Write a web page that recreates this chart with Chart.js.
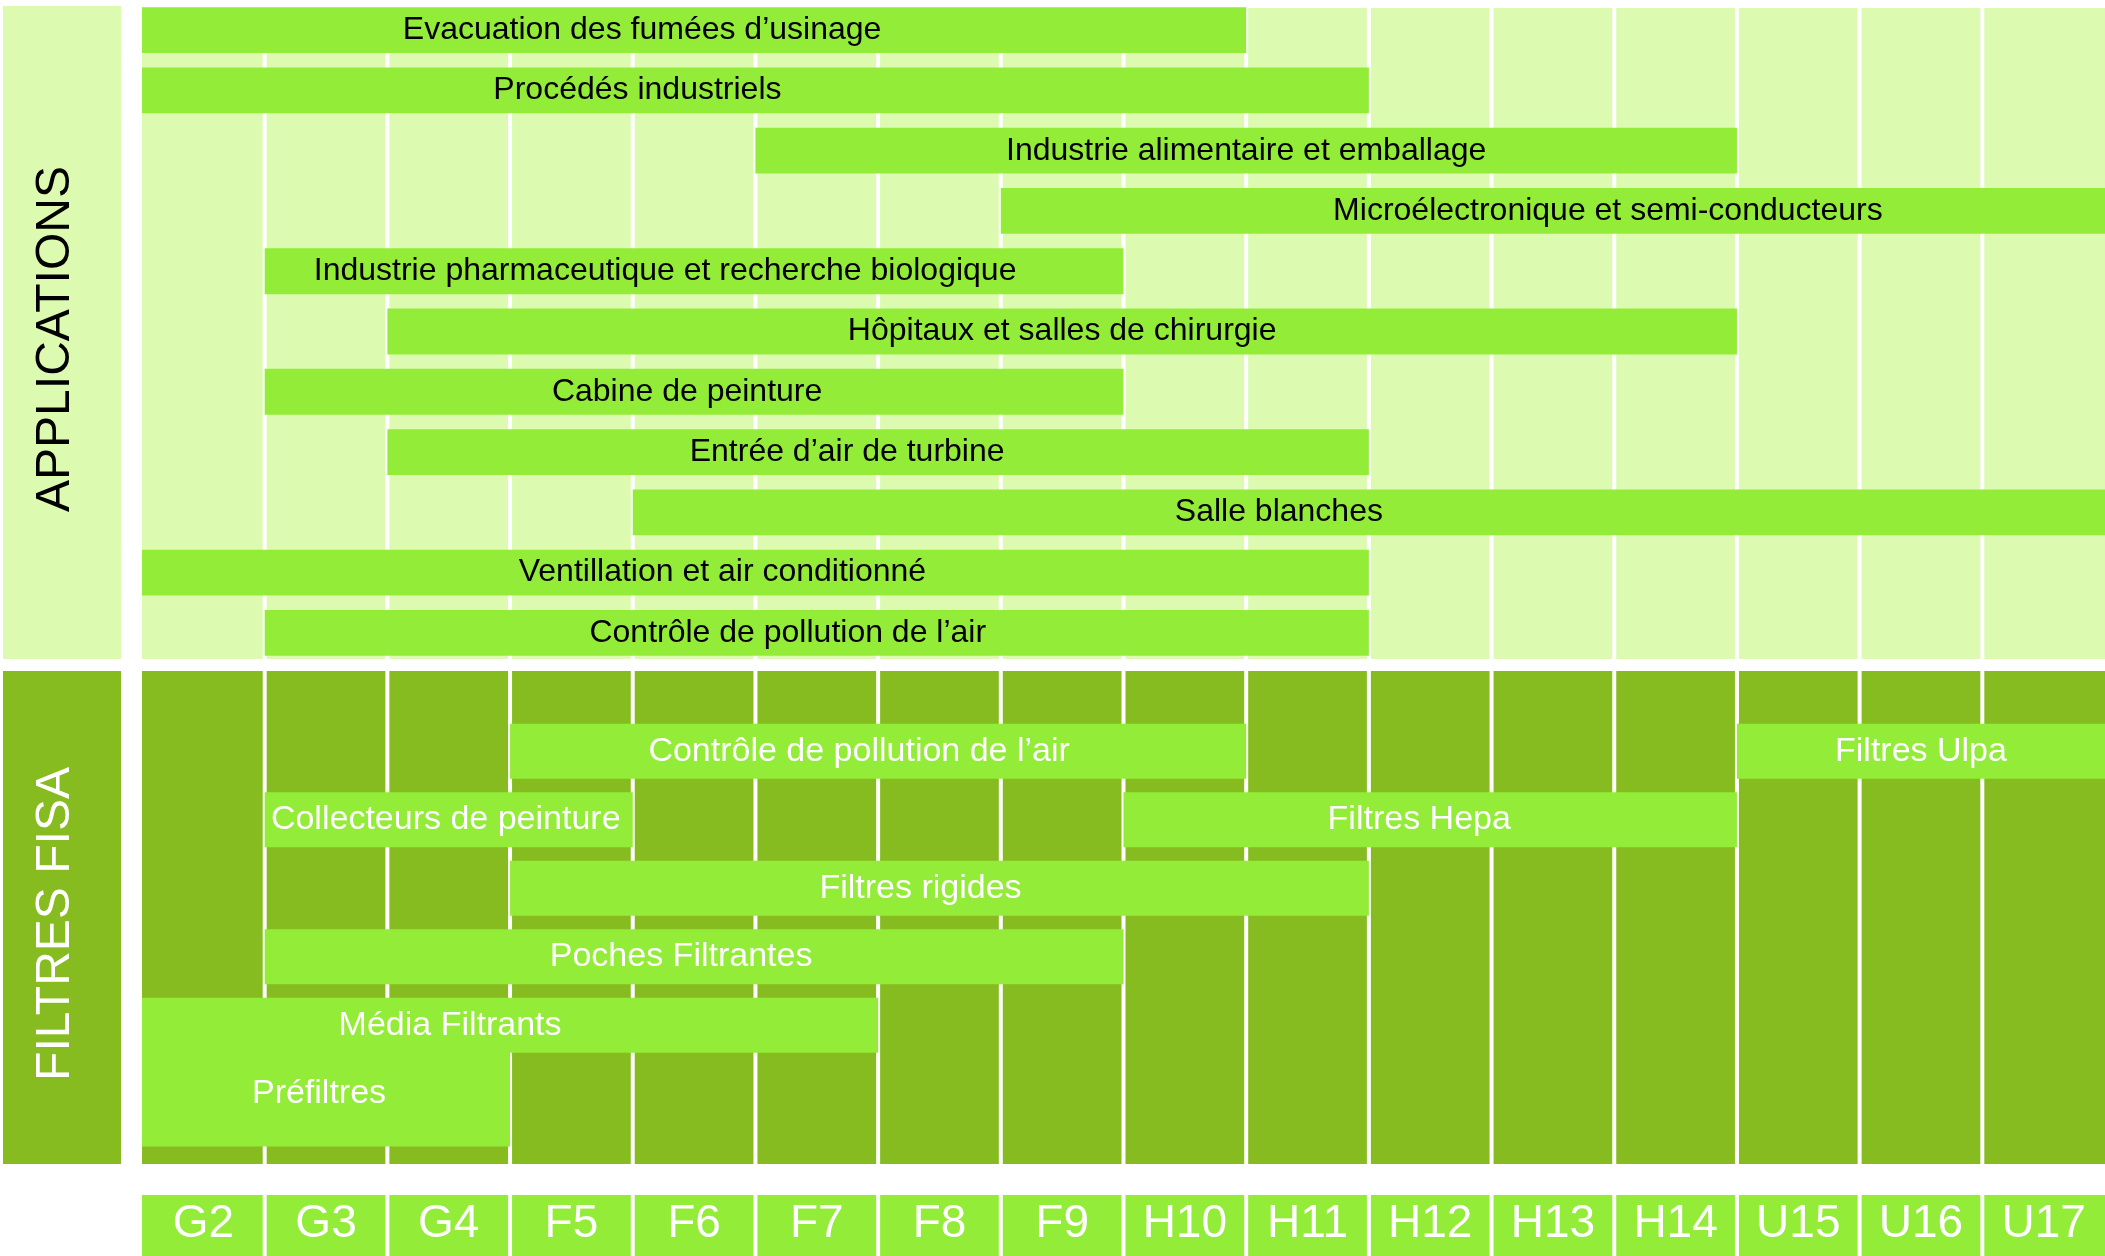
<!DOCTYPE html>
<html lang="fr">
<head>
<meta charset="utf-8">
<title>Applications et filtres FISA</title>
<script src="https://cdn.jsdelivr.net/npm/chart.js@4.4.1/dist/chart.umd.min.js"></script>
<style>
  html, body { margin: 0; padding: 0; background: #fff; }
  #page { position: relative; width: 2105px; height: 1256px; overflow: hidden; }
  #applicationsChart { position: absolute; left: 0; top: 0; }
  #filtresChart { position: absolute; left: 0; top: 665px; }
</style>
</head>
<body>
<div id="page">
  <canvas id="applicationsChart" width="2105" height="665"></canvas>
  <canvas id="filtresChart" width="2105" height="591"></canvas>
</div>
<script>
// Classes de filtration (axe horizontal)
const classes = ['G2', 'G3', 'G4', 'F5', 'F6', 'F7', 'F8', 'F9', 'H10', 'H11', 'H12', 'H13', 'H14', 'U15', 'U16', 'U17'];

// Applications : premiere et derniere classe couvertes
const applications = [
    'Evacuation des fumées d’usinage',
    'Procédés industriels',
    'Industrie alimentaire et emballage',
    'Microélectronique et semi-conducteurs',
    'Industrie pharmaceutique et recherche biologique',
    'Hôpitaux et salles de chirurgie',
    'Cabine de peinture',
    'Entrée d’air de turbine',
    'Salle blanches',
    'Ventillation et air conditionné',
    'Contrôle de pollution de l’air'
];
const appDebut = ['G2', 'G2', 'F7', 'F9', 'G3', 'G4', 'G3', 'G4', 'F6', 'G2', 'G3'];
const appFin = ['H10', 'H11', 'H14', 'U17', 'F9', 'H14', 'F9', 'H11', 'U17', 'H11', 'H11'];

// Filtres FISA, ranges par ligne
const lignesFiltres = ['1', '2', '3', '4', '5', '6'];
const filtres = [
    'Contrôle de pollution de l’air',
    'Filtres Ulpa',
    'Collecteurs de peinture',
    'Filtres Hepa',
    'Filtres rigides',
    'Poches Filtrantes',
    'Média Filtrants',
    'Préfiltres'
];
const filtreLigne = ['1', '1', '2', '2', '3', '4', '5', '6'];
const filtreDebut = ['F5', 'U15', 'G3', 'H10', 'F5', 'G3', 'G2', 'G2'];
const filtreFin = ['H10', 'U17', 'F5', 'H14', 'H11', 'F9', 'F7', 'G4'];
const filtresEpais = ['Préfiltres'];

// Couleurs
const VERT_VIF = '#93EC37';
const VERT_PALE = '#DCFBB0';
const VERT_FONCE = '#86BC1F';
const POLICE = '"Liberation Sans", Arial, sans-serif';

// Decalage horizontal des textes dans les barres (px)
const decalagesHaut = {
    'Evacuation des fumées d’usinage': -52,
    'Procédés industriels': -118,
    'Microélectronique et semi-conducteurs': 55,
    'Industrie pharmaceutique et recherche biologique': -29,
    'Cabine de peinture': -7,
    'Entrée d’air de turbine': -31,
    'Salle blanches': -90,
    'Ventillation et air conditionné': -33,
    'Contrôle de pollution de l’air': -29
};
const decalagesBas = {
    'Contrôle de pollution de l’air': -19,
    'Filtres Hepa': -11,
    'Filtres rigides': -19,
    'Poches Filtrantes': -13,
    'Média Filtrants': -60,
    'Préfiltres': -7,
    'Collecteurs de peinture': -3
};

function intervalle(debut, fin) {
    return [classes.indexOf(debut), classes.indexOf(fin) + 1];
}

function dessinerColonnes(chart, haut, bas, couleur) {
    const { ctx, scales: { x } } = chart;
    ctx.fillStyle = couleur;
    classes.forEach((c, i) => {
        const g = x.getPixelForValue(i) + (i > 0 ? 2 : 0);
        const d = x.getPixelForValue(i + 1) - (i < classes.length - 1 ? 2 : 0);
        ctx.fillRect(g, haut, d - g, bas - haut);
    });
}

function dessinerBandeau(ctx, haut, bas, fond, texte, couleurTexte, centreY) {
    ctx.fillStyle = fond;
    ctx.fillRect(3, haut, 118, bas - haut);
    ctx.save();
    ctx.translate(56, centreY);
    ctx.rotate(-Math.PI / 2);
    ctx.font = '48px ' + POLICE;
    ctx.fillStyle = couleurTexte;
    ctx.textAlign = 'center';
    ctx.textBaseline = 'middle';
    ctx.fillText(texte, 0, 0);
    ctx.restore();
}

// Textes centres dans les barres
const etiquettes = {
    id: 'etiquettes',
    afterDatasetsDraw(chart, args, opts) {
        const { ctx } = chart;
        ctx.save();
        ctx.font = opts.taille + 'px ' + POLICE;
        ctx.fillStyle = opts.couleur;
        ctx.textAlign = 'center';
        ctx.textBaseline = 'middle';
        chart.data.datasets.forEach((ds, di) => {
            chart.getDatasetMeta(di).data.forEach((barre, i) => {
                const texte = ds.textes[i];
                const dx = opts.decalages[texte] || 0;
                ctx.fillText(texte, (barre.x + barre.base) / 2 + dx, barre.y);
            });
        });
        ctx.restore();
    }
};

Chart.register(etiquettes);

// Graphique des applications
new Chart(document.getElementById('applicationsChart'), {
    type: 'bar',
    data: {
        labels: applications,
        datasets: [{
            data: applications.map((a, i) => intervalle(appDebut[i], appFin[i])),
            textes: applications,
            backgroundColor: VERT_VIF,
            borderWidth: 0,
            barPercentage: 0.76,
            categoryPercentage: 1
        }]
    },
    options: {
        indexAxis: 'y',
        responsive: false,
        animation: false,
        layout: { padding: { left: 142, right: 0, top: 0, bottom: 2 } },
        scales: {
            x: { type: 'linear', min: 0, max: classes.length, display: false },
            y: { display: false }
        },
        plugins: {
            legend: { display: false },
            tooltip: { enabled: false },
            etiquettes: { taille: 32, couleur: '#000', decalages: decalagesHaut }
        }
    },
    plugins: [{
        id: 'fondHaut',
        beforeDatasetsDraw(chart) {
            const ctx = chart.ctx;
            ctx.save();
            dessinerBandeau(ctx, 6, 659, VERT_PALE, 'APPLICATIONS', '#000', 339);
            dessinerColonnes(chart, 8, 659, VERT_PALE);
            ctx.restore();
        }
    }]
});

// Graphique des filtres FISA
const idxNormaux = filtres.map((f, i) => i).filter(i => !filtresEpais.includes(filtres[i]));
const idxEpais = filtres.map((f, i) => i).filter(i => filtresEpais.includes(filtres[i]));

function jeuFiltres(indices, epaisseur) {
    return {
        data: indices.map(i => ({ y: filtreLigne[i], x: intervalle(filtreDebut[i], filtreFin[i]) })),
        textes: indices.map(i => filtres[i]),
        backgroundColor: VERT_VIF,
        borderWidth: 0,
        barPercentage: epaisseur,
        categoryPercentage: 1,
        grouped: false,
        clip: false
    };
}

new Chart(document.getElementById('filtresChart'), {
    type: 'bar',
    data: {
        datasets: [jeuFiltres(idxNormaux, 0.8), jeuFiltres(idxEpais, 1.54)]
    },
    options: {
        indexAxis: 'y',
        responsive: false,
        animation: false,
        layout: { padding: { left: 142, right: 0, top: 52, bottom: 0 } },
        scales: {
            x: {
                type: 'linear',
                min: 0,
                max: classes.length,
                grid: { display: false, drawTicks: false },
                border: { display: false },
                afterBuildTicks: (s) => { s.ticks = classes.map((c, i) => ({ value: i + 0.5 })); },
                afterFit: (s) => {
                    s.height = 128;
                    s.paddingLeft = 0;
                    s.paddingRight = 0;
                },
                ticks: {
                    autoSkip: false,
                    maxRotation: 0,
                    padding: 69,
                    color: '#fff',
                    font: { size: 46, family: POLICE },
                    callback: (v, i) => classes[i]
                }
            },
            y: { type: 'category', labels: lignesFiltres, display: false }
        },
        plugins: {
            legend: { display: false },
            tooltip: { enabled: false },
            etiquettes: { taille: 34, couleur: '#fff', decalages: decalagesBas }
        }
    },
    plugins: [{
        id: 'fondBas',
        beforeDraw(chart) {
            const ctx = chart.ctx;
            ctx.save();
            // cases des classes sous le graphique
            dessinerColonnes(chart, 530, 591, VERT_VIF);
            ctx.restore();
        },
        beforeDatasetsDraw(chart) {
            const ctx = chart.ctx;
            ctx.save();
            dessinerBandeau(ctx, 6, 499, VERT_FONCE, 'FILTRES FISA', '#fff', 259);
            dessinerColonnes(chart, 6, 499, VERT_FONCE);
            ctx.restore();
        }
    }]
});
</script>
</body>
</html>
